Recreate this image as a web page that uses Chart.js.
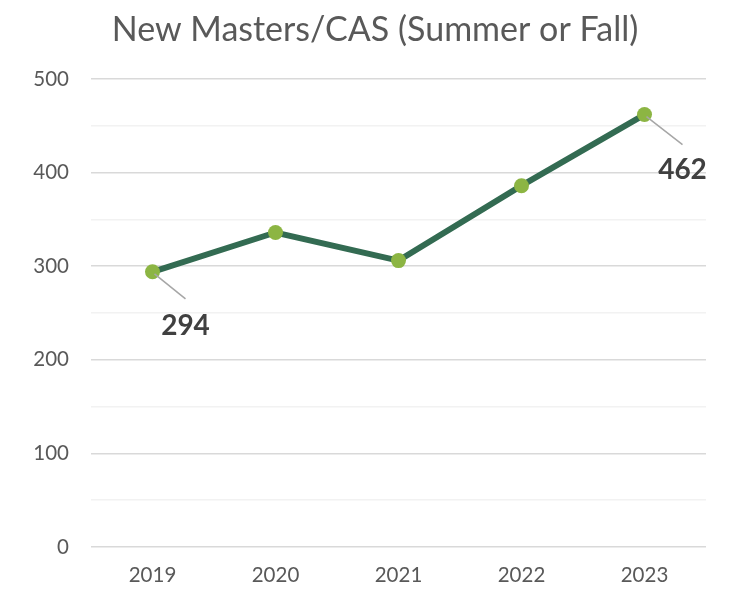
<!DOCTYPE html>
<html><head><meta charset="utf-8">
<script src="https://cdn.jsdelivr.net/npm/chart.js@4"></script>
<style>html,body{margin:0;padding:0;background:#fff}#wrap{width:731px;height:590px}</style>
</head><body><div id="wrap"><canvas id="c" width="731" height="590"></canvas></div>
<script>
const TITLE = 'New Masters/CAS (Summer or Fall)';
const categories = ['2019', '2020', '2021', '2022', '2023'];
const enrolled = [294, 336, 306, 386, 462];
const labelledIndexes = [0, 4];
const yTicks = [0, 100, 200, 300, 400, 500];

const FONT = 'Lato, "Open Sans", sans-serif';

const titlePlugin = {
  id: 'customTitle',
  afterDraw(chart) {
    const ctx = chart.ctx;
    ctx.save();
    ctx.font = '34px ' + FONT;
    ctx.fillStyle = '#595959';
    ctx.textAlign = 'center';
    ctx.textBaseline = 'alphabetic';
    ctx.fillText(TITLE, 375, 41);
    ctx.restore();
  }
};

const labelPlugin = {
  id: 'leaderLabels',
  afterDatasetsDraw(chart) {
    const ctx = chart.ctx;
    const meta = chart.getDatasetMeta(0);
    const offs = {0: [33, 27, 0, 54], 4: [38, 30, 0, 55]};
    ctx.save();
    labelledIndexes.forEach(i => {
      const p = meta.data[i];
      const o = offs[i];
      ctx.strokeStyle = '#a6a6a6';
      ctx.lineWidth = 1.5;
      ctx.beginPath();
      ctx.moveTo(p.x + 2, p.y + 2);
      ctx.lineTo(p.x + o[0], p.y + o[1]);
      ctx.stroke();
      ctx.font = 'bold 28px ' + FONT;
      ctx.fillStyle = '#404040';
      ctx.textAlign = 'center';
      ctx.textBaseline = 'middle';
      ctx.fillText(String(enrolled[i]), p.x + o[0] + o[2], p.y + o[3]);
    });
    ctx.restore();
  }
};

new Chart(document.getElementById('c'), {
  type: 'line',
  data: {
    labels: categories,
    datasets: [{
      data: enrolled,
      borderColor: '#336b52',
      borderWidth: 6,
      pointBackgroundColor: '#8cb543',
      pointBorderColor: '#8cb543',
      pointRadius: 7.5,
      pointBorderWidth: 0,
      tension: 0
    }]
  },
  options: {
    responsive: false,
    animation: false,
    layout: { padding: { top: 79, right: 25, bottom: 0, left: 0 } },
    plugins: { legend: { display: false }, tooltip: { enabled: false }, title: { display: false } },
    scales: {
      x: {
        offset: true,
        afterFit(s) { s.height = 43; },
        grid: { display: false, drawTicks: false },
        border: { display: false },
        ticks: { color: '#595959', font: { size: 20.5, family: FONT }, padding: 16 }
      },
      y: {
        min: 0, max: 500,
        afterFit(s) { s.width = 91; },
        grid: {
          drawTicks: false,
          color: c => (c.tick && c.tick.value % 100 === 0) ? '#d9d9d9' : '#f2f2f2',
          lineWidth: 1.5
        },
        border: { display: false },
        ticks: {
          stepSize: 50,
          color: '#595959',
          font: { size: 20.5, family: FONT },
          padding: 22,
          callback: v => yTicks.includes(v) ? String(v) : ''
        }
      }
    }
  },
  plugins: [titlePlugin, labelPlugin]
});
</script>
</body></html>
